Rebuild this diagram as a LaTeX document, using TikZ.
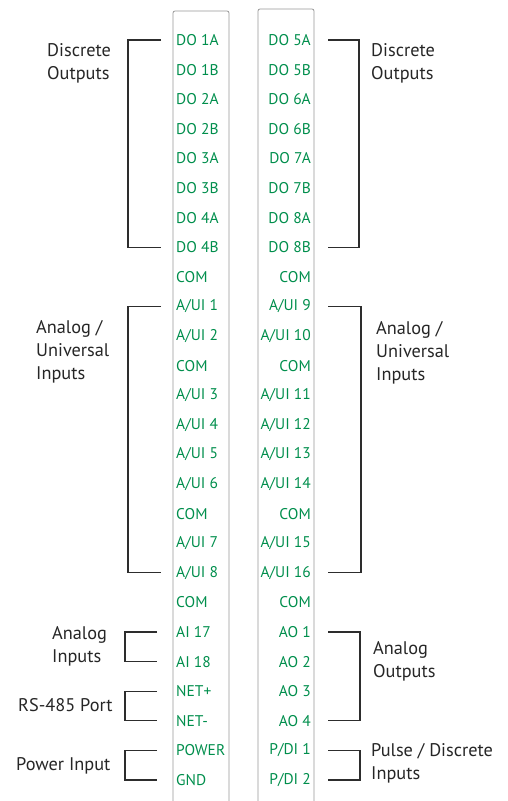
\documentclass[tikz,border=0pt]{standalone}
\usepackage{fontspec}
\setmainfont{PT Sans}
\usepackage{tikz}
\usetikzlibrary{calc}
\definecolor{pingreen}{RGB}{0,142,76}
\definecolor{boxgray}{RGB}{150,150,150}
\definecolor{brkgray}{RGB}{45,45,45}

\begin{document}
\begin{tikzpicture}[x=1pt,y=-1pt,
  pin/.style={inner sep=0pt,text=pingreen,font=\fontsize{15.5}{18}\selectfont},
  grp/.style={inner sep=0pt,align=left,text=black!85,font=\fontsize{18.3}{23}\selectfont},
  strip/.style={draw=boxgray,line width=0.8pt,rounded corners=2pt},
  brk/.style={draw=brkgray,line width=1.3pt}
]
\useasboundingbox (0,0) rectangle (508,801);

% terminal strips
\draw[strip] (173,820) |- (229,11) -- (229,820);
\draw[strip] (258,820) |- (314,9) -- (314,820);

\foreach \txt [count=\i] in {DO 1A,DO 1B,DO 2A,DO 2B,DO 3A,DO 3B,DO 4A,DO 4B,COM,
  A/UI 1,A/UI 2,COM,A/UI 3,A/UI 4,A/UI 5,A/UI 6,COM,A/UI 7,A/UI 8,COM,
  AI 17,AI 18,NET+,NET-,POWER,GND}
  \node[pin,anchor=west] (l\i) at (176,{40+29.6*(\i-1)}) {\txt};
\foreach \txt [count=\i] in {DO 5A,DO 5B,DO 6A,DO 6B,DO 7A,DO 7B,DO 8A,DO 8B,COM,
  A/UI 9,A/UI 10,COM,A/UI 11,A/UI 12,A/UI 13,A/UI 14,COM,A/UI 15,A/UI 16,COM,
  AO 1,AO 2,AO 3,AO 4,P/DI 1,P/DI 2}
  \node[pin,anchor=east] (r\i) at (311,{40+29.6*(\i-1)}) {\txt};

% group labels
\node[grp,anchor=west] (lDO)  at (47,63.5)  {Discrete\\Outputs};
\node[grp,anchor=west] (lAUI) at (36,352)   {Analog /\\Universal\\Inputs};
\node[grp,anchor=west] (lAI)  at (52,646)   {Analog\\Inputs};
\node[grp,anchor=west] (lRS)  at (18,705)   {RS-485 Port};
\node[grp,anchor=west] (lPWR) at (16,766)   {Power Input};
\node[grp,anchor=west] (rDO)  at (371,63.5) {Discrete\\Outputs};
\node[grp,anchor=west] (rAUI) at (376,353)  {Analog /\\Universal\\Inputs};
\node[grp,anchor=west] (rAO)  at (373,661)  {Analog\\Outputs};
\node[grp,anchor=west] (rPDI) at (371,763)  {Pulse / Discrete\\Inputs};

% left brackets
\draw[brk] ([xshift=-15pt]l1.west) -- ++(-33,0) |- ([xshift=-15pt]l8.west);
\draw[brk] ([xshift=-15pt]l10.west) -- ++(-33,0) |- ([xshift=-15pt]l19.west);
\draw[brk] ([xshift=-19pt]l21.west) -- ++(-32,0) |- ([xshift=-19pt]l22.west);
\draw[brk] ([xshift=-19pt]l23.west) -- ++(-32,0) |- ([xshift=-19pt]l24.west);
\draw[brk] ([xshift=-19pt]l25.west) -- ++(-32,0) |- ([xshift=-19pt]l26.west);
% right brackets
\draw[brk] ([xshift=17pt]r1.east) -- ++(31,0) |- ([xshift=17pt]r8.east);
\draw[brk] ([xshift=17pt]r10.east) -- ++(33,0) |- ([xshift=17pt]r19.east);
\draw[brk] ([xshift=17pt]r21.east) -- ++(32,0) |- ([xshift=17pt]r24.east);
\draw[brk] ([xshift=17pt]r25.east) -- ++(32,0) |- ([xshift=17pt]r26.east);
\end{tikzpicture}
\end{document}
